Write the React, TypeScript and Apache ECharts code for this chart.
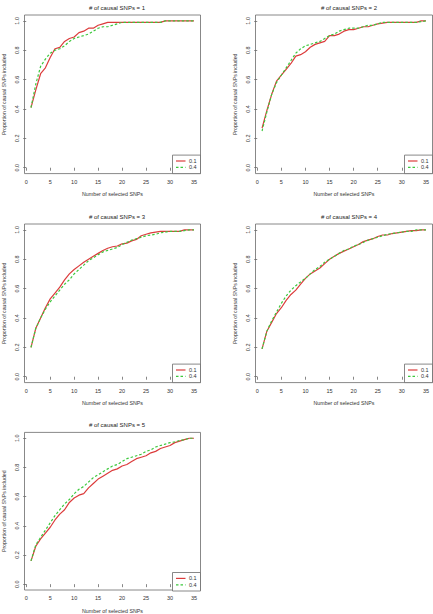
import React, { useEffect, useRef } from "react";
import * as echarts from "echarts";

// Number of selected SNPs (x positions)
const SELECTED = [1, 2, 3, 4, 5, 6, 7, 8, 9, 10, 11, 12, 13, 14, 15, 16, 17, 18, 19, 20, 21, 22, 23, 24, 25, 26, 27, 28, 29, 30, 31, 32, 33, 34, 35];

const X_TICKS = [0, 5, 10, 15, 20, 25, 30, 35];
const Y_TICKS = [0, 0.2, 0.4, 0.6, 0.8, 1.0];
const LEGEND_NAMES = ["0.1", "0.4"];
const CAUSAL = [1, 2, 3, 4, 5];

// # causal SNPs = 1
const red1 = [0.41, 0.53, 0.64, 0.68, 0.75, 0.81, 0.82, 0.86, 0.88, 0.89, 0.92, 0.93, 0.95, 0.95, 0.97, 0.98, 0.99, 0.99, 0.99, 0.99, 0.99, 0.99, 0.99, 0.99, 0.99, 0.99, 0.99, 0.99, 1.0, 1.0, 1.0, 1.0, 1.0, 1.0, 1.0];
const green1 = [0.41, 0.57, 0.69, 0.74, 0.78, 0.8, 0.81, 0.83, 0.86, 0.88, 0.89, 0.9, 0.91, 0.93, 0.95, 0.96, 0.96, 0.97, 0.98, 0.99, 0.99, 0.99, 0.99, 0.99, 0.99, 0.99, 0.99, 0.99, 1.0, 1.0, 1.0, 1.0, 1.0, 1.0, 1.0];

// # causal SNPs = 2
const red2 = [0.27, 0.39, 0.5, 0.59, 0.63, 0.67, 0.71, 0.76, 0.77, 0.79, 0.82, 0.84, 0.85, 0.86, 0.9, 0.9, 0.91, 0.93, 0.94, 0.94, 0.95, 0.96, 0.96, 0.97, 0.98, 0.985, 0.99, 0.99, 0.99, 0.99, 0.99, 0.99, 0.99, 1.0, 1.0];
const green2 = [0.25, 0.38, 0.5, 0.58, 0.63, 0.68, 0.73, 0.78, 0.81, 0.83, 0.84, 0.85, 0.86, 0.88, 0.9, 0.91, 0.93, 0.94, 0.95, 0.95, 0.95, 0.96, 0.97, 0.97, 0.98, 0.99, 0.99, 0.99, 0.99, 0.99, 0.99, 0.99, 0.99, 0.995, 1.0];

// # causal SNPs = 3
const red3 = [0.2, 0.33, 0.4, 0.47, 0.53, 0.57, 0.61, 0.66, 0.7, 0.73, 0.755, 0.78, 0.8, 0.82, 0.84, 0.86, 0.875, 0.885, 0.89, 0.905, 0.91, 0.925, 0.935, 0.96, 0.97, 0.98, 0.985, 0.99, 0.99, 0.99, 0.99, 0.99, 1.0, 1.0, 1.0];
const green3 = [0.2, 0.33, 0.4, 0.46, 0.51, 0.55, 0.59, 0.63, 0.66, 0.7, 0.73, 0.76, 0.79, 0.81, 0.83, 0.85, 0.86, 0.87, 0.88, 0.9, 0.915, 0.93, 0.94, 0.95, 0.96, 0.965, 0.97, 0.98, 0.985, 0.99, 0.99, 0.99, 0.995, 1.0, 1.0];

// # causal SNPs = 4
const red4 = [0.19, 0.31, 0.37, 0.43, 0.47, 0.52, 0.56, 0.59, 0.63, 0.67, 0.7, 0.72, 0.74, 0.77, 0.8, 0.82, 0.84, 0.855, 0.87, 0.885, 0.9, 0.92, 0.93, 0.94, 0.955, 0.965, 0.965, 0.975, 0.98, 0.985, 0.99, 0.995, 0.995, 1.0, 1.0];
const green4 = [0.19, 0.31, 0.38, 0.44, 0.5, 0.55, 0.59, 0.62, 0.645, 0.67, 0.7, 0.73, 0.75, 0.78, 0.8, 0.82, 0.84, 0.86, 0.87, 0.89, 0.9, 0.915, 0.93, 0.94, 0.95, 0.96, 0.97, 0.975, 0.98, 0.985, 0.99, 0.99, 1.0, 1.0, 1.0];

// # causal SNPs = 5
const red5 = [0.16, 0.26, 0.31, 0.35, 0.39, 0.44, 0.48, 0.51, 0.56, 0.59, 0.61, 0.62, 0.66, 0.69, 0.72, 0.74, 0.76, 0.78, 0.79, 0.81, 0.82, 0.84, 0.86, 0.87, 0.88, 0.9, 0.91, 0.93, 0.94, 0.95, 0.97, 0.98, 0.99, 1.0, 1.0];
const green5 = [0.16, 0.27, 0.32, 0.37, 0.42, 0.47, 0.51, 0.55, 0.58, 0.62, 0.65, 0.67, 0.7, 0.73, 0.75, 0.77, 0.79, 0.81, 0.82, 0.84, 0.86, 0.87, 0.88, 0.89, 0.91, 0.92, 0.94, 0.95, 0.96, 0.97, 0.975, 0.985, 0.99, 1.0, 1.0];

const RED_SERIES = [red1, red2, red3, red4, red5];
const GREEN_SERIES = [green1, green2, green3, green4, green5];

const W = 433;
const H = 614;
// plot boxes: left, top, width, height (px)
const BOXES = [
  [23.5, 15, 177, 158.6],
  [255.5, 15, 177, 158.6],
  [23.5, 224, 177, 158.6],
  [255.5, 224, 177, 158.6],
  [23.5, 432.4, 177, 158.6],
];

const RED = "#dc3c3c";
const GREEN = "#3cc83c";
const GREEN_DASH = [2.5, 2];
const AXIS = "#6a6a6a";
const TEXT = "#333";
const FONT = "'Liberation Sans', Arial, sans-serif";

export default function App() {
  const ref = useRef<HTMLDivElement>(null);
  useEffect(() => {
    if (!ref.current) return;
    const chart = echarts.init(ref.current, null, { renderer: "svg" });
    const grids: any[] = [];
    const xAxes: any[] = [];
    const yAxes: any[] = [];
    const series: any[] = [];
    const titles: any[] = [];
    const graphics: any[] = [];
    CAUSAL.forEach((c, i) => {
      const [l, t, w, h] = BOXES[i];
      grids.push({
        left: l,
        top: t,
        width: w,
        height: h,
        show: true,
        borderColor: AXIS,
        borderWidth: 0.8,
        backgroundColor: "transparent",
      });
      xAxes.push({
        gridIndex: i,
        type: "value",
        min: -0.36,
        max: 36.36,
        name: "Number of selected SNPs",
        nameLocation: "middle",
        nameGap: 18,
        nameTextStyle: { fontSize: 5.3, color: TEXT, fontFamily: FONT },
        axisLine: { show: false },
        splitLine: { show: false },
        axisTick: {
          show: true,
          length: 3,
          customValues: X_TICKS,
          lineStyle: { color: AXIS, width: 0.8 },
        },
        axisLabel: {
          customValues: X_TICKS,
          fontSize: 5.5,
          color: TEXT,
          fontFamily: FONT,
          margin: 5,
        },
      });
      yAxes.push({
        gridIndex: i,
        type: "value",
        min: -0.04,
        max: 1.04,
        name: "Proportion of causal SNPs included",
        nameLocation: "middle",
        nameGap: 18.5,
        nameTextStyle: { fontSize: 5.2, color: TEXT, fontFamily: FONT },
        axisLine: { show: false },
        splitLine: { show: false },
        axisTick: {
          show: true,
          length: 3,
          customValues: Y_TICKS,
          lineStyle: { color: AXIS, width: 0.8 },
        },
        axisLabel: {
          customValues: Y_TICKS,
          rotate: 90,
          fontSize: 5.5,
          color: TEXT,
          fontFamily: FONT,
          margin: 5,
          formatter: (v: number) => v.toFixed(1),
        },
      });
      series.push({
        name: LEGEND_NAMES[0],
        type: "line",
        xAxisIndex: i,
        yAxisIndex: i,
        symbol: "none",
        lineStyle: { color: RED, width: 1.2 },
        itemStyle: { color: RED },
        data: SELECTED.map((n, k) => [n, RED_SERIES[i][k]]),
      });
      series.push({
        name: LEGEND_NAMES[1],
        type: "line",
        xAxisIndex: i,
        yAxisIndex: i,
        symbol: "none",
        lineStyle: { color: GREEN, width: 1.2, type: GREEN_DASH },
        itemStyle: { color: GREEN },
        data: SELECTED.map((n, k) => [n, GREEN_SERIES[i][k]]),
      });
      titles.push({
        text: `# of causal SNPs = ${c}`,
        left: l + w / 2,
        top: t - 15,
        textAlign: "center",
        textStyle: { fontSize: 6, fontWeight: "normal", color: "#222", fontFamily: FONT },
      });
      // legend box (bottom-right of plot box)
      const R = l + w;
      const B = t + h;
      const rows = [
        { name: LEGEND_NAMES[0], color: RED, dash: null as any, dy: -12.6 },
        { name: LEGEND_NAMES[1], color: GREEN, dash: GREEN_DASH, dy: -6.2 },
      ];
      graphics.push({
        type: "group",
        children: [
          {
            type: "rect",
            shape: { x: R - 28, y: B - 18.5, width: 28, height: 18.5 },
            style: { fill: "#fff", stroke: AXIS, lineWidth: 0.8 },
            z: 10,
          },
          ...rows.flatMap((r) => [
            {
              type: "line",
              shape: { x1: R - 24.5, y1: B + r.dy, x2: R - 15, y2: B + r.dy },
              style: { stroke: r.color, lineWidth: 1.2, lineDash: r.dash || undefined },
              z: 11,
            },
            {
              type: "text",
              x: R - 11.5,
              y: B + r.dy,
              style: {
                text: r.name,
                fontSize: 5.5,
                fill: TEXT,
                fontFamily: FONT,
                verticalAlign: "middle",
                align: "left",
              },
              z: 11,
            },
          ]),
        ],
      });
    });
    chart.setOption({
      animation: false,
      backgroundColor: "#fff",
      title: titles,
      grid: grids,
      xAxis: xAxes,
      yAxis: yAxes,
      series,
      graphic: graphics,
    });
    return () => chart.dispose();
  }, []);
  return (
    <div
      ref={ref}
      style={{ position: "fixed", left: 0, top: 0, width: W, height: H }}
    />
  );
}
